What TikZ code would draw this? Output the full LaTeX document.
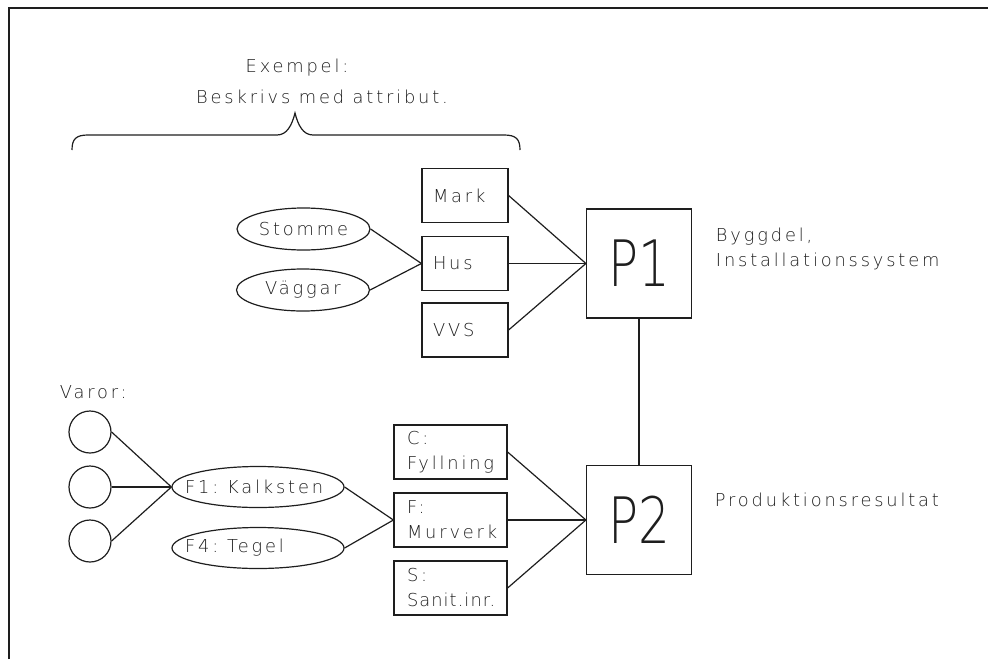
\documentclass[tikz,border=0pt]{standalone}
\usepackage{fontspec}
\usepackage{graphicx}
\setmainfont{DejaVuSans-ExtraLight.ttf}[LetterSpace=16]
\newfontfamily\plotbig{DejaVuSans-ExtraLight.ttf}
\usepackage{tikz}
\usetikzlibrary{shapes.geometric}
\definecolor{ink}{RGB}{30,30,30}

\begin{document}
\begin{tikzpicture}[x=1pt, y=-1pt,
  line width=1.2pt, draw=ink, text=ink,
  every node/.style={font=\fontsize{17.8}{25}\selectfont},
  part/.style={draw, rectangle, inner xsep=11pt, inner ysep=0pt,
    text width=64pt, minimum height=54pt, align=left},
  result/.style={draw, rectangle, inner xsep=13pt, inner ysep=0pt,
    text width=87pt, minimum height=54pt, align=left},
  attrib/.style={draw, ellipse, inner sep=0pt,
    minimum width=133pt, minimum height=42pt},
  material/.style={draw, ellipse, inner xsep=-20pt, inner ysep=0pt,
    text width=146pt, align=left, minimum width=172pt, minimum height=41pt},
  ware/.style={draw, circle, inner sep=0pt, minimum size=42pt},
  proc/.style={draw, rectangle, inner sep=0pt, minimum width=105pt,
    minimum height=109pt, font=\plotbig\fontsize{64}{64}\selectfont}
  ]
  \useasboundingbox (0,0) rectangle (988,659);
  % frame
  \draw[line width=1.8pt] (9,659) -- (9,8) -- (988,8);

  % example text and brace
  \node (exempel) at (297,68) {Exempel:};
  \node (beskrivs) at (322,97) {Beskrivs med attribut.};
  \draw (72,150) .. controls (72,139) and (76,135) .. (88,135) -- (277,135)
    .. controls (287,135) and (292,125) .. (295,113)
    .. controls (298,125) and (303,135) .. (313,135) -- (504,135)
    .. controls (516,135) and (520,139) .. (520,150);

  % upper level
  \node[part] (mark) at (465,195.5) {Mark};
  \node[part] (hus) at (465,263.5) {Hus};
  \node[part] (vvs) at (465,330) {VVS};
  \node[attrib] (stomme) at (303.5,229) {Stomme};
  \node[attrib] (vaggar) at (303,290) {Väggar};
  \node[proc] (p1) at (639,263.5) {\scalebox{0.78}[1]{P1}};
  \node[anchor=west, align=left] (byggdel) at (712,248.5) {Byggdel,\\Installationssystem};

  % lower level
  \node[anchor=west] (varor) at (56,392) {Varor:};
  \node[ware] (v1) at (90,432) {};
  \node[ware] (v2) at (90,487) {};
  \node[ware] (v3) at (90,541) {};
  \node[material] (kalksten) at (258,487) {F1: Kalksten};
  \node[material] (tegel) at (258,548) {F4: Tegel};
  \node[result] (fyllning) at (450.5,452) {C:\\Fyllning};
  \node[result] (murverk) at (450.5,520) {F:\\Murverk};
  \node[result] (sanit) at (450.5,588) {S:\\\addfontfeature{LetterSpace=6}Sanit.inr.};
  \node[proc] (p2) at (639,520) {\scalebox{0.78}[1]{P2}};
  \node[anchor=west] (prod) at (711,500) {Produktionsresultat};

  % connectors
  \draw (stomme.east) -- (hus.west);
  \draw (vaggar.east) -- (hus.west);
  \draw (mark.east) -- (p1.west);
  \draw (hus.east) -- (p1.west);
  \draw (vvs.east) -- (p1.west);
  \draw (p1.south) -- (p2.north);
  \draw (v1.east) -- (kalksten.west);
  \draw (v2.east) -- (kalksten.west);
  \draw (v3.east) -- (kalksten.west);
  \draw (kalksten.east) -- (murverk.west);
  \draw (tegel.east) -- (murverk.west);
  \draw (fyllning.east) -- (p2.west);
  \draw (murverk.east) -- (p2.west);
  \draw (sanit.east) -- (p2.west);
\end{tikzpicture}
\end{document}
